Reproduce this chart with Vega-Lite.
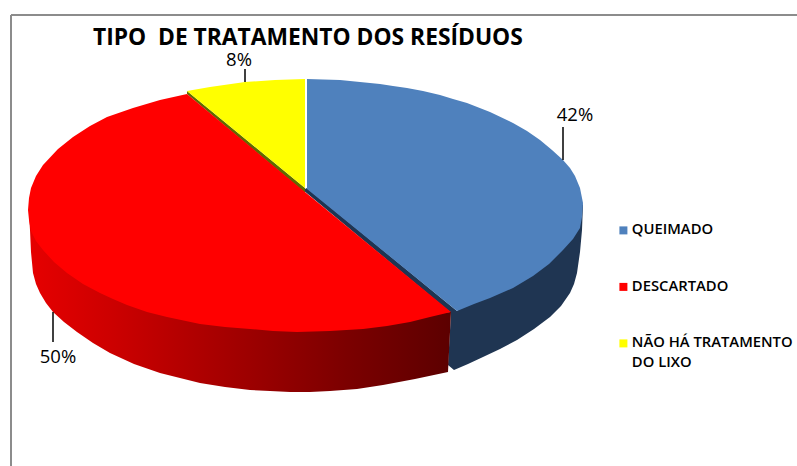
{
"$schema":"https://vega.github.io/schema/vega-lite/v6.json",
"width":797,"height":466,"padding":0,"autosize":{"type":"none"},
"background":"white",
"config":{"view":{"stroke":null},"style":{"guide-label":{"lineHeight":20}}},
"title":{"text":"TIPO\u00a0 DE TRATAMENTO DOS RESÍDUOS","anchor":"start","frame":"group","orient":"top","offset":-68,"dx":93,"font":"Open Sans","fontSize":22.8,"fontWeight":"bold","color":"#000000","baseline":"alphabetic"},
"datasets":{
"outline":[
{"face":"wallBlue","seq":1,"x":583,"y":204},{"face":"wallBlue","seq":2,"x":582,"y":230},{"face":"wallBlue","seq":3,"x":580,"y":252},{"face":"wallBlue","seq":4,"x":577,"y":273},{"face":"wallBlue","seq":5,"x":574,"y":284},{"face":"wallBlue","seq":6,"x":570,"y":293},{"face":"wallBlue","seq":7,"x":561,"y":306},{"face":"wallBlue","seq":8,"x":550,"y":317},{"face":"wallBlue","seq":9,"x":534,"y":329},{"face":"wallBlue","seq":10,"x":517,"y":340},{"face":"wallBlue","seq":11,"x":500,"y":349},{"face":"wallBlue","seq":12,"x":483,"y":357},{"face":"wallBlue","seq":13,"x":468,"y":364},{"face":"wallBlue","seq":14,"x":454,"y":370},{"face":"wallBlue","seq":15,"x":448,"y":365},{"face":"wallBlue","seq":16,"x":451,"y":313},{"face":"wallBlue","seq":17,"x":303,"y":190},{"face":"wallBlue","seq":18,"x":307,"y":188},{"face":"wallBlue","seq":19,"x":457,"y":311},
{"face":"wallRed","seq":1,"x":29,"y":215},{"face":"wallRed","seq":2,"x":30,"y":230},{"face":"wallRed","seq":3,"x":31,"y":252},{"face":"wallRed","seq":4,"x":33,"y":273},{"face":"wallRed","seq":5,"x":36,"y":284},{"face":"wallRed","seq":6,"x":40,"y":293},{"face":"wallRed","seq":7,"x":46,"y":303},{"face":"wallRed","seq":8,"x":53,"y":312},{"face":"wallRed","seq":9,"x":64,"y":322},{"face":"wallRed","seq":10,"x":77,"y":332},{"face":"wallRed","seq":11,"x":93,"y":343},{"face":"wallRed","seq":12,"x":110,"y":353},{"face":"wallRed","seq":13,"x":134,"y":364},{"face":"wallRed","seq":14,"x":160,"y":373},{"face":"wallRed","seq":15,"x":180,"y":378},{"face":"wallRed","seq":16,"x":200,"y":383},{"face":"wallRed","seq":17,"x":225,"y":387},{"face":"wallRed","seq":18,"x":250,"y":390},{"face":"wallRed","seq":19,"x":270,"y":391},{"face":"wallRed","seq":20,"x":290,"y":392},{"face":"wallRed","seq":21,"x":310,"y":392},{"face":"wallRed","seq":22,"x":330,"y":391},{"face":"wallRed","seq":23,"x":357,"y":389},{"face":"wallRed","seq":24,"x":383,"y":385},{"face":"wallRed","seq":25,"x":415,"y":379},{"face":"wallRed","seq":26,"x":448,"y":372},{"face":"wallRed","seq":27,"x":451,"y":312},{"face":"wallRed","seq":28,"x":300,"y":320},
{"face":"wallYellow","seq":1,"x":187,"y":91},{"face":"wallYellow","seq":2,"x":305,"y":188},{"face":"wallYellow","seq":3,"x":305,"y":193},{"face":"wallYellow","seq":4,"x":187,"y":94},
{"face":"top","tipo":"QUEIMADO","seq":1,"x":307,"y":189},{"face":"top","tipo":"QUEIMADO","seq":2,"x":307,"y":79},{"face":"top","tipo":"QUEIMADO","seq":3,"x":323,"y":79.5},{"face":"top","tipo":"QUEIMADO","seq":4,"x":340,"y":80},{"face":"top","tipo":"QUEIMADO","seq":5,"x":360,"y":82},{"face":"top","tipo":"QUEIMADO","seq":6,"x":380,"y":84},{"face":"top","tipo":"QUEIMADO","seq":7,"x":393,"y":86},{"face":"top","tipo":"QUEIMADO","seq":8,"x":407,"y":88},{"face":"top","tipo":"QUEIMADO","seq":9,"x":423,"y":91},{"face":"top","tipo":"QUEIMADO","seq":10,"x":440,"y":95},{"face":"top","tipo":"QUEIMADO","seq":11,"x":453,"y":99},{"face":"top","tipo":"QUEIMADO","seq":12,"x":467,"y":103},{"face":"top","tipo":"QUEIMADO","seq":13,"x":490,"y":112},{"face":"top","tipo":"QUEIMADO","seq":14,"x":513,"y":123},{"face":"top","tipo":"QUEIMADO","seq":15,"x":527,"y":131},{"face":"top","tipo":"QUEIMADO","seq":16,"x":540,"y":140},{"face":"top","tipo":"QUEIMADO","seq":17,"x":552,"y":150},{"face":"top","tipo":"QUEIMADO","seq":18,"x":563,"y":160},{"face":"top","tipo":"QUEIMADO","seq":19,"x":570,"y":168},{"face":"top","tipo":"QUEIMADO","seq":20,"x":575,"y":176},{"face":"top","tipo":"QUEIMADO","seq":21,"x":580,"y":188},{"face":"top","tipo":"QUEIMADO","seq":22,"x":583,"y":203},{"face":"top","tipo":"QUEIMADO","seq":23,"x":582,"y":217},{"face":"top","tipo":"QUEIMADO","seq":24,"x":580,"y":228},{"face":"top","tipo":"QUEIMADO","seq":25,"x":573,"y":239},{"face":"top","tipo":"QUEIMADO","seq":26,"x":563,"y":250},{"face":"top","tipo":"QUEIMADO","seq":27,"x":549,"y":264},{"face":"top","tipo":"QUEIMADO","seq":28,"x":533,"y":276},{"face":"top","tipo":"QUEIMADO","seq":29,"x":513,"y":288},{"face":"top","tipo":"QUEIMADO","seq":30,"x":490,"y":298},{"face":"top","tipo":"QUEIMADO","seq":31,"x":474,"y":304},{"face":"top","tipo":"QUEIMADO","seq":32,"x":457,"y":311},
{"face":"top","tipo":"DESCARTADO","seq":1,"x":305,"y":192},{"face":"top","tipo":"DESCARTADO","seq":2,"x":187,"y":94},{"face":"top","tipo":"DESCARTADO","seq":3,"x":160,"y":100},{"face":"top","tipo":"DESCARTADO","seq":4,"x":133,"y":108},{"face":"top","tipo":"DESCARTADO","seq":5,"x":107,"y":117},{"face":"top","tipo":"DESCARTADO","seq":6,"x":90,"y":126},{"face":"top","tipo":"DESCARTADO","seq":7,"x":73,"y":137},{"face":"top","tipo":"DESCARTADO","seq":8,"x":58,"y":149},{"face":"top","tipo":"DESCARTADO","seq":9,"x":43,"y":165},{"face":"top","tipo":"DESCARTADO","seq":10,"x":36,"y":176},{"face":"top","tipo":"DESCARTADO","seq":11,"x":31,"y":188},{"face":"top","tipo":"DESCARTADO","seq":12,"x":29,"y":198},{"face":"top","tipo":"DESCARTADO","seq":13,"x":28,"y":210},{"face":"top","tipo":"DESCARTADO","seq":14,"x":29,"y":220},{"face":"top","tipo":"DESCARTADO","seq":15,"x":31,"y":231},{"face":"top","tipo":"DESCARTADO","seq":16,"x":36,"y":241},{"face":"top","tipo":"DESCARTADO","seq":17,"x":43,"y":250},{"face":"top","tipo":"DESCARTADO","seq":18,"x":54,"y":262},{"face":"top","tipo":"DESCARTADO","seq":19,"x":67,"y":273},{"face":"top","tipo":"DESCARTADO","seq":20,"x":83,"y":284},{"face":"top","tipo":"DESCARTADO","seq":21,"x":100,"y":293},{"face":"top","tipo":"DESCARTADO","seq":22,"x":113,"y":299},{"face":"top","tipo":"DESCARTADO","seq":23,"x":127,"y":305},{"face":"top","tipo":"DESCARTADO","seq":24,"x":147,"y":312},{"face":"top","tipo":"DESCARTADO","seq":25,"x":167,"y":317},{"face":"top","tipo":"DESCARTADO","seq":26,"x":200,"y":324},{"face":"top","tipo":"DESCARTADO","seq":27,"x":225,"y":327},{"face":"top","tipo":"DESCARTADO","seq":28,"x":250,"y":329},{"face":"top","tipo":"DESCARTADO","seq":29,"x":273,"y":331},{"face":"top","tipo":"DESCARTADO","seq":30,"x":297,"y":332},{"face":"top","tipo":"DESCARTADO","seq":31,"x":330,"y":331},{"face":"top","tipo":"DESCARTADO","seq":32,"x":363,"y":329},{"face":"top","tipo":"DESCARTADO","seq":33,"x":387,"y":326},{"face":"top","tipo":"DESCARTADO","seq":34,"x":410,"y":322},{"face":"top","tipo":"DESCARTADO","seq":35,"x":430,"y":317},{"face":"top","tipo":"DESCARTADO","seq":36,"x":451,"y":312},
{"face":"top","tipo":"NÃO HÁ TRATAMENTO DO LIXO","seq":1,"x":305,"y":188},{"face":"top","tipo":"NÃO HÁ TRATAMENTO DO LIXO","seq":2,"x":187,"y":91},{"face":"top","tipo":"NÃO HÁ TRATAMENTO DO LIXO","seq":3,"x":210,"y":87},{"face":"top","tipo":"NÃO HÁ TRATAMENTO DO LIXO","seq":4,"x":245,"y":82},{"face":"top","tipo":"NÃO HÁ TRATAMENTO DO LIXO","seq":5,"x":275,"y":80},{"face":"top","tipo":"NÃO HÁ TRATAMENTO DO LIXO","seq":6,"x":305,"y":79}
],
"fatias":[
{"tipo":"QUEIMADO","pct":0.42,"px":575,"py":115,"x1":563,"y1":127,"y2":160},
{"tipo":"DESCARTADO","pct":0.50,"px":58,"py":357,"x1":53,"y1":312,"y2":342},
{"tipo":"NÃO HÁ TRATAMENTO DO LIXO","pct":0.08,"px":239,"py":60,"x1":245,"y1":69,"y2":82}
],
"moldura":[
{"x":11,"y":15,"x2":797,"y2":15},
{"x":11,"y":15,"x2":11,"y2":466}
]
},
"layer":[
{"data":{"name":"moldura"},"mark":{"type":"rule","color":"#8c8c8c","strokeWidth":2},
"encoding":{"x":{"field":"x","type":"quantitative","scale":{"domain":[0,797],"nice":false,"zero":false},"axis":null},"y":{"field":"y","type":"quantitative","scale":{"domain":[466,0],"nice":false,"zero":false},"axis":null},"x2":{"field":"x2"},"y2":{"field":"y2"}}},
{"data":{"name":"outline"},"transform":[{"filter":"datum.face=='wallBlue'"}],
"mark":{"type":"line","filled":true,"fill":"#1f3552","stroke":null,"interpolate":"linear"},
"encoding":{"x":{"field":"x","type":"quantitative","scale":{"domain":[0,797],"nice":false,"zero":false},"axis":null},"y":{"field":"y","type":"quantitative","scale":{"domain":[466,0],"nice":false,"zero":false},"axis":null},"order":{"field":"seq","type":"quantitative"}}},
{"data":{"name":"outline"},"transform":[{"filter":"datum.face=='wallRed'"}],
"mark":{"type":"line","filled":true,"stroke":null,"interpolate":"linear","fill":{"gradient":"linear","x1":0,"x2":1,"y1":0,"y2":0,"stops":[{"offset":0,"color":"#e60000"},{"offset":0.2,"color":"#cc0000"},{"offset":0.5,"color":"#a00000"},{"offset":0.75,"color":"#7c0000"},{"offset":1,"color":"#5c0000"}]}},
"encoding":{"x":{"field":"x","type":"quantitative","scale":{"domain":[0,797],"nice":false,"zero":false},"axis":null},"y":{"field":"y","type":"quantitative","scale":{"domain":[466,0],"nice":false,"zero":false},"axis":null},"order":{"field":"seq","type":"quantitative"}}},
{"data":{"name":"outline"},"transform":[{"filter":"datum.face=='wallYellow'"}],
"mark":{"type":"line","filled":true,"fill":"#5f6b00","stroke":null},
"encoding":{"x":{"field":"x","type":"quantitative","scale":{"domain":[0,797],"nice":false,"zero":false},"axis":null},"y":{"field":"y","type":"quantitative","scale":{"domain":[466,0],"nice":false,"zero":false},"axis":null},"order":{"field":"seq","type":"quantitative"}}},
{"data":{"name":"outline"},"transform":[{"filter":"datum.face=='top'"}],
"mark":{"type":"line","filled":true,"stroke":null},
"encoding":{"x":{"field":"x","type":"quantitative","scale":{"domain":[0,797],"nice":false,"zero":false},"axis":null},"y":{"field":"y","type":"quantitative","scale":{"domain":[466,0],"nice":false,"zero":false},"axis":null},"order":{"field":"seq","type":"quantitative"},
"fill":{"field":"tipo","type":"nominal","scale":{"domain":["QUEIMADO","DESCARTADO","NÃO HÁ TRATAMENTO DO LIXO"],"range":["#4f81bd","#ff0000","#ffff00"]},
"legend":{"title":null,"orient":"none","legendX":616,"legendY":223,"symbolType":"square","symbolSize":64,"symbolStrokeWidth":0,"labelFont":"Open Sans","labelFontSize":14.8,"labelFontWeight":600,"labelColor":"#000000","labelLimit":190,"rowPadding":40.5,"labelOffset":1,"labelExpr":"datum.label=='NÃO HÁ TRATAMENTO DO LIXO'?['NÃO HÁ TRATAMENTO','DO LIXO']:datum.label"}}}},
{"data":{"name":"fatias"},"mark":{"type":"rule","color":"#000000","strokeWidth":1.5},
"encoding":{"x":{"field":"x1","type":"quantitative","scale":{"domain":[0,797],"nice":false,"zero":false},"axis":null},"y":{"field":"y1","type":"quantitative","scale":{"domain":[466,0],"nice":false,"zero":false},"axis":null},"y2":{"field":"y2"}}},
{"data":{"name":"fatias"},"mark":{"type":"text","font":"Open Sans","fontSize":18.5,"fontWeight":500,"color":"#000000","baseline":"middle","align":"center"},
"encoding":{"x":{"field":"px","type":"quantitative","scale":{"domain":[0,797],"nice":false,"zero":false},"axis":null},"y":{"field":"py","type":"quantitative","scale":{"domain":[466,0],"nice":false,"zero":false},"axis":null},"text":{"field":"pct","type":"quantitative","format":".0%"}}}
]
}
